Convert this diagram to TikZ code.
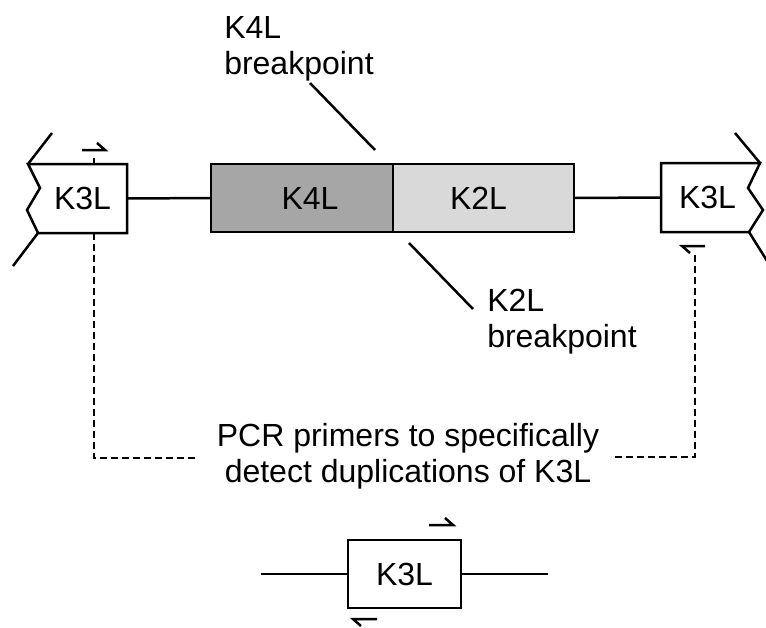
\documentclass[tikz,border=0pt]{standalone}
\usepackage{fontspec}
\setmainfont{Liberation Sans}
\usetikzlibrary{positioning,calc}
\definecolor{darkseg}{HTML}{A6A6A6}
\definecolor{lightseg}{HTML}{D9D9D9}

\begin{document}
\begin{tikzpicture}[x=1pt,y=-1pt,line width=2.5pt,font=\fontsize{32}{36}\selectfont,
  seg/.style={draw,rectangle,outer sep=0pt,inner sep=0pt,minimum height=68pt},
  note/.style={inner sep=0pt,align=left},
  dots/.style={line width=2.8pt,dash pattern=on 7pt off 4pt}]
  \useasboundingbox (0,0) rectangle (766,627);
  % fused K4L/K2L segment
  \node[seg,fill=darkseg,minimum width=182pt,label={[xshift=8pt]center:K4L}] (k4l) at (302,198) {};
  \node[seg,fill=lightseg,minimum width=181pt,label={[xshift=-5pt]center:K2L},right=0pt of k4l] (k2l) {};
  % flanking K3L copies, broken ends
  \node[seg,draw=none,minimum width=99pt,minimum height=69pt,label={[xshift=5pt]center:K3L}] (k3la) at (77.5,198.5) {};
  \draw (k3la.north west) -- (k3la.north east) -- (k3la.south east) -- ([xshift=10pt]k3la.south west) -- ++(-11,-23) -- ++(13,-22) -- cycle;
  \draw (k3la.north west) -- ++(24,-31);
  \draw ([xshift=10pt]k3la.south west) -- ++(-25,33);
  \node[seg,draw=none,minimum width=99pt,minimum height=69pt,label={[xshift=-3pt]center:K3L}] (k3lb) at (710.5,197.5) {};
  \draw (k3lb.north east) -- (k3lb.north west) -- (k3lb.south west) -- ([xshift=-11pt]k3lb.south east) -- ++(14,-22) -- ++(-15,-22) -- cycle;
  \draw (k3lb.north east) -- ++(-25,-30);
  \draw ([xshift=-11pt]k3lb.south east) -- ++(20,32);
  \draw (k3la.east) -- (k4l.west);
  \draw (k2l.east) -- (k3lb.west);
  % primers
  \draw (82,150) -- (105,150) -- ++(-8,-7);
  \draw (94,158) -- (94,164);
  \draw (705,246) -- (682,246) -- ++(8,7);
  % breakpoints
  \node[note,anchor=north west] (bp4) at (223,15) {K4L\\breakpoint};
  \node[note,anchor=north west] (bp2) at (486,288) {K2L\\breakpoint};
  \coordinate (bp4a) at (310,83);
  \coordinate (bp4b) at (375,150);
  \coordinate (bp2a) at (409,243);
  \coordinate (bp2b) at (473,309);
  \draw (bp4a) -- (bp4b);
  \draw (bp2a) -- (bp2b);
  % primer note
  \node[note,align=center,anchor=north] (pcr) at (408,422) {PCR primers to specifically\\detect duplications of K3L};
  \coordinate (dl) at (94,233);
  \coordinate (pl) at (195,458);
  \coordinate (dr) at (695,255);
  \coordinate (pr) at (611,457);
  \draw[dots] (dl) |- (pl);
  \draw[dots] (dr) |- (pr);
  % single K3L copy
  \node[seg,minimum width=113pt] (k3lc) at (404.5,574) {K3L};
  \coordinate (cl) at (261,574);
  \coordinate (cr) at (548,574);
  \draw (cl) -- (k3lc.west);
  \draw (k3lc.east) -- (cr);
  \draw (429,525) -- (453,525) -- ++(-8,-7);
  \draw (377,619) -- (353,619) -- ++(8,7);
\end{tikzpicture}
\end{document}
